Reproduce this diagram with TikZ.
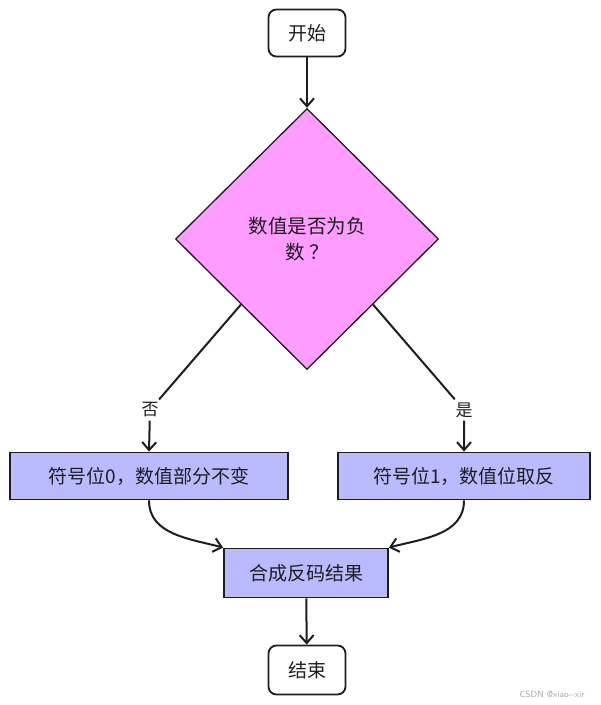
\documentclass[tikz,border=0pt]{standalone}
\usepackage{fontspec}
\setmainfont{Noto Sans CJK SC}
\usetikzlibrary{shapes.geometric,arrows.meta}

\definecolor{diafill}{RGB}{255,156,255}
\definecolor{boxfill}{RGB}{186,186,255}
\definecolor{ink}{RGB}{30,30,30}

\tikzset{
    term/.style={draw=ink, line width=1.8pt, rounded corners=8pt, fill=white,
        minimum width=77pt, minimum height=47pt, font=\fontsize{19}{22}\selectfont},
    proc/.style={draw=ink, line width=1.8pt, fill=boxfill,
        minimum height=47pt, font=\fontsize{19}{22}\selectfont},
    lab/.style={fill=white, inner sep=3pt, font=\fontsize{17}{19}\selectfont},
    arr/.style={-{Straight Barb[length=8pt,width=14pt]}, draw=ink, line width=2pt}
}

\begin{document}
\begin{tikzpicture}[x=1pt, y=-1pt, text=ink]
        \useasboundingbox (0, 0) rectangle (601, 705);

        \node[term] (start) at (307, 33) {开始};
        \node[diamond, draw=ink, line width=1.3pt, fill=diafill, aspect=1,
              minimum width=263pt, minimum height=261pt, inner sep=0pt,
              align=center, font=\fontsize{19.5}{26}\selectfont] (dia) at (307, 239) {数值是否为负\\数 ？};
        \node[proc, minimum width=278pt] (left) at (149, 476) {符号位0，数值部分不变};
        \node[proc, minimum width=252pt] (right) at (464, 476) {符号位1，数值位取反};
        \node[proc, minimum width=164pt, minimum height=49pt] (merge) at (306, 573) {合成反码结果};
        \node[term, minimum height=49pt] (end) at (307, 670) {结束};

        \node[lab] (no) at (150, 410) {否};
        \node[lab] (yes) at (464, 410) {是};

        \draw [arr] (start) -- (dia);
        \draw [arr] (dia.south west) -- (no) -- (left.north);
        \draw [arr] (dia.south east) -- (yes) -- (right.north);
        \draw [arr] (left.south) to[out=-90, in=165] (merge.north west);
        \draw [arr] (right.south) to[out=-90, in=15] (merge.north east);
        \draw [arr] (merge) -- (end);

        \node[text=black!35, font=\sffamily\fontsize{9}{10}\selectfont] (mark) at (552, 694) {CSDN @xiao-{}-xir};
    \end{tikzpicture}
\end{document}
